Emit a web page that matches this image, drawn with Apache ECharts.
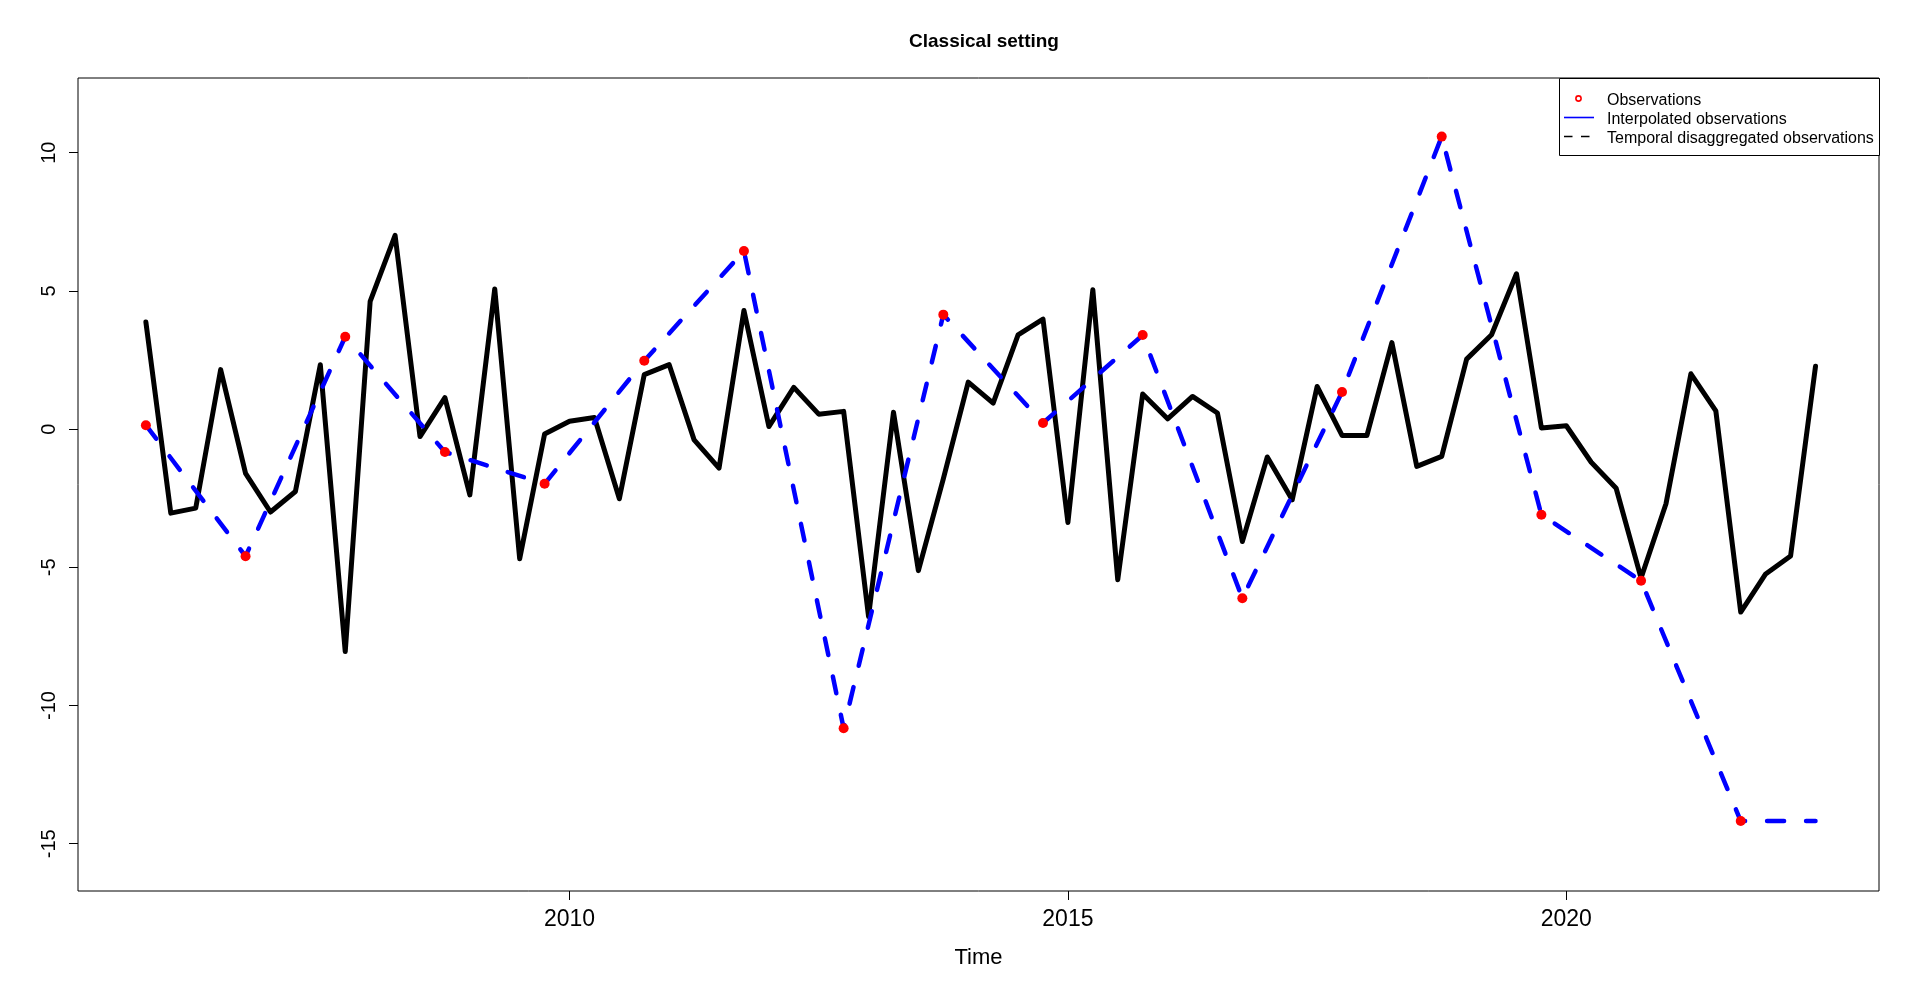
<!DOCTYPE html>
<html>
<head>
<meta charset="utf-8">
<script src="https://cdn.jsdelivr.net/npm/echarts@6/dist/echarts.min.js"></script>
<style>
html,body{margin:0;padding:0;background:#fff;}
#chart{width:1920px;height:989px;}
</style>
</head>
<body>
<div id="chart"></div>
<script>
// ---- data (quarterly time series, start 2005 Q4) ----
const startYear = 2005.75;
const freq = 4;
const disaggValues = [3.87, -3.04, -2.86, 2.15, -1.6, -3.0, -2.26, 2.33, -8.05, 4.62, 7.01, -0.27, 1.14, -2.38, 5.07, -4.69,
  -0.18, 0.28, 0.42, -2.52, 1.97, 2.33, -0.39, -1.41, 4.29, 0.09, 1.51, 0.54, 0.64, -6.78, 0.61, -5.12,
  -1.8, 1.70, 0.94, 3.41, 3.98, -3.38, 5.04, -5.45, 1.27, 0.37, 1.18, 0.58, -4.07, -1.01, -2.56, 1.54,
  -0.23, -0.23, 3.13, -1.35, -0.99, 2.53, 3.41, 5.62, 0.04, 0.12, -1.2, -2.14, -5.39, -2.7, 2.0, 0.66,
  -6.62, -5.24, -4.59, 2.27];
const obsTimes = [2005.75, 2006.75, 2007.75, 2008.75, 2009.75, 2010.75, 2011.75, 2012.75, 2013.75, 2014.75,
  2015.75, 2016.75, 2017.75, 2018.75, 2019.75, 2020.75, 2021.75];
const obsValues = [0.14, -4.60, 3.34, -0.83, -1.98, 2.47, 6.44, -10.82, 4.14, 0.22, 3.40, -6.12, 1.34, 10.58, -3.10, -5.49, -14.18];
// interpolated (blue) line: observations, then held flat to the last quarter
const interpEndTime = 2022.5;
const interpEndValue = -14.18;
const xTicks = [2010, 2015, 2020];
const yTicks = [-15, -10, -5, 0, 5, 10];
const legendLabels = ['Observations', 'Interpolated observations', 'Temporal disaggregated observations'];
const titleText = 'Classical setting';
const xName = 'Time';

// ---- build series data ----
const disaggData = disaggValues.map((v, i) => [startYear + i / freq, v]);
const obsData = obsTimes.map((t, i) => [t, obsValues[i]]);
const interpData = obsData.concat([[interpEndTime, interpEndValue]]);

const FONT = "'Liberation Sans', Arial, sans-serif";
const chart = echarts.init(document.getElementById('chart'), null, {renderer: 'canvas'});

const legX = 1559, legY = 78, legW = 320, legH = 77;
const option = {
  animation: false,
  backgroundColor: '#ffffff',
  title: {
    text: titleText,
    left: 979, top: 27, textAlign: 'center',
    textStyle: {fontFamily: FONT, fontSize: 19, fontWeight: 'bold', color: '#000'}
  },
  grid: {
    left: 78, right: 41, top: 78, bottom: 98, containLabel: false,
    show: true, borderColor: '#000', borderWidth: 1, backgroundColor: 'transparent'
  },
  xAxis: {
    type: 'value', min: 2005.069, max: 2023.137,
    name: xName, nameLocation: 'middle', nameGap: 56,
    nameTextStyle: {fontFamily: FONT, fontSize: 22, color: '#000'},
    axisLine: {show: false, onZero: false},
    splitLine: {show: false},
    axisTick: {show: true, inside: false, length: 9, customValues: xTicks, lineStyle: {color: '#000', width: 1}},
    axisLabel: {show: true, margin: 17, customValues: xTicks, fontFamily: FONT, fontSize: 23, color: '#000',
      formatter: v => String(v)}
  },
  yAxis: {
    type: 'value', min: -16.71, max: 12.70,
    axisLine: {show: false, onZero: false},
    splitLine: {show: false},
    axisTick: {show: true, inside: false, length: 9, customValues: yTicks, lineStyle: {color: '#000', width: 1}},
    axisLabel: {show: true, rotate: 90, margin: 19, customValues: yTicks, fontFamily: FONT, fontSize: 20, color: '#000',
      formatter: v => String(v)}
  },
  series: [
    {
      name: legendLabels[2], type: 'line', data: disaggData,
      showSymbol: false, symbol: 'none', z: 2,
      lineStyle: {color: '#000', width: 5, join: 'round', cap: 'round'}
    },
    {
      name: legendLabels[1], type: 'line', data: interpData,
      showSymbol: false, symbol: 'none', z: 3,
      lineStyle: {color: '#0000ff', width: 4.5, type: [17, 22], cap: 'round', join: 'round'}
    },
    {
      name: legendLabels[0], type: 'scatter', data: obsData,
      symbol: 'circle', symbolSize: 10, z: 4,
      itemStyle: {color: '#ff0000', opacity: 1}
    }
  ],
  graphic: [
    {type: 'rect', shape: {x: legX + 0.5, y: legY + 0.5, width: legW, height: legH},
      style: {fill: '#fff', stroke: '#000', lineWidth: 1}, z: 10},
    {type: 'circle', shape: {cx: 1578.5, cy: 98.5, r: 2.6},
      style: {fill: 'none', stroke: '#ff0000', lineWidth: 1.6}, z: 11},
    {type: 'line', shape: {x1: 1564, y1: 117.5, x2: 1594, y2: 117.5},
      style: {stroke: '#0000ff', lineWidth: 1.6}, z: 11},
    {type: 'line', shape: {x1: 1564, y1: 136.5, x2: 1594, y2: 136.5},
      style: {stroke: '#000', lineWidth: 1.6, lineDash: [8.5, 8.5]}, z: 11},
    {type: 'text', x: 1607, y: 100.5, style: {text: legendLabels[0], font: '16px ' + FONT, fill: '#000', textVerticalAlign: 'middle'}, z: 11},
    {type: 'text', x: 1607, y: 119.5, style: {text: legendLabels[1], font: '16px ' + FONT, fill: '#000', textVerticalAlign: 'middle'}, z: 11},
    {type: 'text', x: 1607, y: 138.5, style: {text: legendLabels[2], font: '16px ' + FONT, fill: '#000', textVerticalAlign: 'middle'}, z: 11}
  ]
};
chart.setOption(option);
</script>
</body>
</html>
